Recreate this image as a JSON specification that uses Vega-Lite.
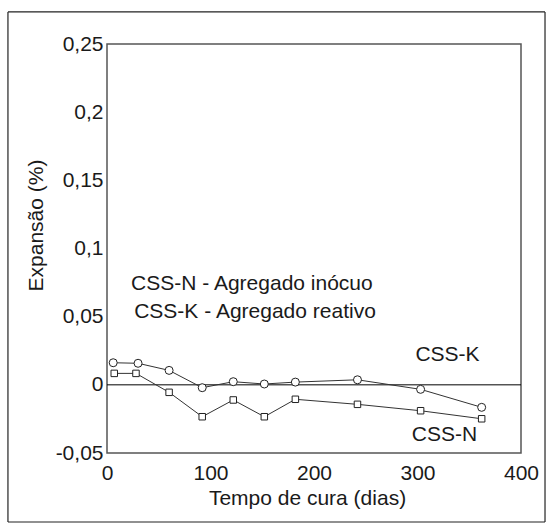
{
  "$schema": "https://vega.github.io/schema/vega-lite/v6.json",
  "width": 414,
  "height": 409,
  "autosize": {"type": "none"},
  "padding": {"left": 107, "top": 44, "right": 31, "bottom": 73},
  "background": "white",
  "config": {
    "font": "Liberation Sans",
    "locale": {"number": {"decimal": ",", "thousands": ".", "grouping": [3], "currency": ["", ""], "minus": "-"}},
    "view": {"stroke": "#555", "strokeWidth": 1.5},
    "axis": {
      "domain": false, "ticks": false, "grid": false,
      "labelFont": "Liberation Sans", "labelFontSize": 21, "labelColor": "#1a1a1a",
      "titleFont": "Liberation Sans", "titleFontSize": 21, "titleFontWeight": "normal", "titleColor": "#1a1a1a"
    }
  },
  "datasets": {
    "series": [
      {"serie": "CSS-K", "dias": 6, "expansao": 0.0162},
      {"serie": "CSS-K", "dias": 30, "expansao": 0.0158},
      {"serie": "CSS-K", "dias": 60, "expansao": 0.0106},
      {"serie": "CSS-K", "dias": 92, "expansao": -0.0021},
      {"serie": "CSS-K", "dias": 122, "expansao": 0.0023},
      {"serie": "CSS-K", "dias": 152, "expansao": 0.0006},
      {"serie": "CSS-K", "dias": 182, "expansao": 0.002},
      {"serie": "CSS-K", "dias": 242, "expansao": 0.0037},
      {"serie": "CSS-K", "dias": 303, "expansao": -0.0033},
      {"serie": "CSS-K", "dias": 362, "expansao": -0.0165},
      {"serie": "CSS-N", "dias": 7, "expansao": 0.0084},
      {"serie": "CSS-N", "dias": 28, "expansao": 0.0084},
      {"serie": "CSS-N", "dias": 60, "expansao": -0.0055},
      {"serie": "CSS-N", "dias": 92, "expansao": -0.0234},
      {"serie": "CSS-N", "dias": 122, "expansao": -0.0111},
      {"serie": "CSS-N", "dias": 152, "expansao": -0.0234},
      {"serie": "CSS-N", "dias": 182, "expansao": -0.0106},
      {"serie": "CSS-N", "dias": 242, "expansao": -0.0143},
      {"serie": "CSS-N", "dias": 303, "expansao": -0.019},
      {"serie": "CSS-N", "dias": 362, "expansao": -0.0249}
    ],
    "notes": [
      {"texto": "CSS-N - Agregado inócuo", "dias": 140, "expansao": 0.074},
      {"texto": "CSS-K - Agregado reativo", "dias": 143, "expansao": 0.0534},
      {"texto": "CSS-K", "dias": 329, "expansao": 0.0219},
      {"texto": "CSS-N", "dias": 326, "expansao": -0.0365}
    ],
    "one": [{"item": 1}]
  },
  "encoding": {
    "x": {
      "type": "quantitative",
      "scale": {"domain": [0, 400], "nice": false, "zero": false},
      "axis": {"values": [0, 100, 200, 300, 400], "format": "d", "labelPadding": 9, "title": "Tempo de cura (dias)", "titlePadding": 4, "titleX": 200, "labelFlush": false}
    },
    "y": {
      "type": "quantitative",
      "scale": {"domain": [-0.05, 0.25], "nice": false, "zero": false},
      "axis": {"values": [-0.05, 0, 0.05, 0.1, 0.15, 0.2, 0.25], "format": "~g", "labelPadding": 4, "title": "Expansão (%)", "titleX": -61, "titleY": 181, "labelFlush": false}
    }
  },
  "layer": [
    {
      "data": {"name": "one"},
      "mark": {"type": "rule", "color": "#222", "strokeWidth": 1.2},
      "encoding": {"x": {"datum": -95.7, "type": "quantitative"}, "x2": {"datum": 423.2}, "y": {"datum": 0.2735, "type": "quantitative"}}
    },
    {
      "data": {"name": "one"},
      "mark": {"type": "rule", "color": "#222", "strokeWidth": 1.2},
      "encoding": {"x": {"datum": -95.7, "type": "quantitative"}, "x2": {"datum": 423.2}, "y": {"datum": -0.1006, "type": "quantitative"}}
    },
    {
      "data": {"name": "one"},
      "mark": {"type": "rule", "color": "#222", "strokeWidth": 1.2},
      "encoding": {"x": {"datum": -95.7, "type": "quantitative"}, "y": {"datum": 0.2735, "type": "quantitative"}, "y2": {"datum": -0.1006}}
    },
    {
      "data": {"name": "one"},
      "mark": {"type": "rule", "color": "#222", "strokeWidth": 1.2},
      "encoding": {"x": {"datum": 423.2, "type": "quantitative"}, "y": {"datum": 0.2735, "type": "quantitative"}, "y2": {"datum": -0.1006}}
    },
    {
      "data": {"name": "one"},
      "mark": {"type": "rule", "color": "#000", "strokeWidth": 1},
      "encoding": {"y": {"datum": 0, "type": "quantitative"}}
    },
    {
      "data": {"name": "series"},
      "mark": {"type": "line", "color": "#333", "strokeWidth": 1},
      "encoding": {
        "x": {"field": "dias", "type": "quantitative"},
        "y": {"field": "expansao", "type": "quantitative"},
        "detail": {"field": "serie"}
      }
    },
    {
      "data": {"name": "series"},
      "mark": {"type": "point", "filled": false, "fill": "white", "fillOpacity": 1, "stroke": "#222", "strokeWidth": 1, "opacity": 1},
      "encoding": {
        "x": {"field": "dias", "type": "quantitative"},
        "y": {"field": "expansao", "type": "quantitative"},
        "shape": {"field": "serie", "type": "nominal", "scale": {"domain": ["CSS-K", "CSS-N"], "range": ["circle", "square"]}, "legend": null},
        "size": {"field": "serie", "type": "nominal", "scale": {"domain": ["CSS-K", "CSS-N"], "range": [64, 42]}, "legend": null}
      }
    },
    {
      "data": {"name": "notes"},
      "mark": {"type": "text", "fontSize": 21, "font": "Liberation Sans", "color": "#1a1a1a", "align": "center", "baseline": "middle"},
      "encoding": {
        "x": {"field": "dias", "type": "quantitative"},
        "y": {"field": "expansao", "type": "quantitative"},
        "text": {"field": "texto"}
      }
    }
  ]
}
